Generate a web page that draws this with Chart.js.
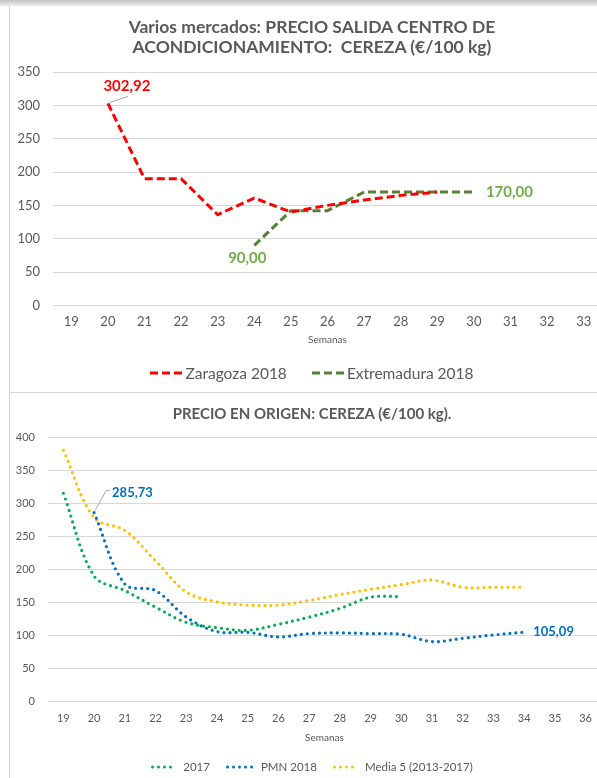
<!DOCTYPE html>
<html>
<head>
<meta charset="utf-8">
<script src="https://cdn.jsdelivr.net/npm/chart.js@4.4.1/dist/chart.umd.min.js"></script>
<style>
  html, body { margin: 0; padding: 0; }
  body { width: 597px; height: 778px; overflow: hidden; position: relative; background: #fff; font-family: Lato, "Noto Sans", sans-serif; color: #595959; }
  .topband { position: absolute; left: 0; top: 0; width: 597px; height: 6px; background: linear-gradient(#c4c4c4, #ededed); }
  .leftline { position: absolute; left: 9px; top: 6px; width: 1px; height: 772px; background: #d0d0d0; }
  .sep { position: absolute; left: 9px; top: 392px; width: 600px; height: 1px; background: #d9d9d9; }
  .box { position: absolute; left: 0; width: 602px; }
  .title { position: absolute; left: 22px; width: 580px; text-align: center; font-weight: bold; white-space: nowrap; }
  .legend { position: absolute; left: 22px; width: 580px; display: flex; justify-content: center; align-items: center; white-space: nowrap; }
  .legend span.item { display: inline-flex; align-items: center; }
  .legend svg { margin-right: 3px; }
</style>
</head>
<body>
<div class="topband"></div>
<div class="leftline"></div>
<div class="sep"></div>

<div class="box" style="top:6px;height:386px"><canvas id="top"></canvas></div>
<div class="title" style="top:17px;font-size:17.5px;line-height:20px">Varios mercados: PRECIO SALIDA CENTRO DE<br>ACONDICIONAMIENTO:&nbsp; CEREZA (€/100 kg)</div>
<div class="legend" id="legTop" style="top:364px;font-size:15.5px"></div>

<div class="box" style="top:393px;height:385px"><canvas id="bottom"></canvas></div>
<div class="title" style="top:404px;font-size:15px;line-height:18px">PRECIO EN ORIGEN: CEREZA (€/100 kg).</div>
<div class="legend" id="legBottom" style="top:760px;font-size:11.5px"></div>

<script>
// --- datos: gráfico superior ---
const semanasTop = ["19","20","21","22","23","24","25","26","27","28","29","30","31","32","33"];
const zaragoza2018 = [null, 302.92, 190, 190, 136, 161, 140, 150, 158, 165, 170, null, null, null, null];
const extremadura2018 = [null, null, null, null, null, 90, 142, 142, 170, 170, 170, 170, null, null, null];
const ticksTop = [0, 50, 100, 150, 200, 250, 300, 350];

// --- datos: gráfico inferior ---
const semanasBottom = ["19","20","21","22","23","24","25","26","27","28","29","30","31","32","33","34","35","36"];
const serie2017 = [315, 190, 168, 143, 120, 112, 108, 117, 128, 141, 158, 159, null, null, null, null, null, null];
const pmn2018 = [null, 285.73, 178, 168, 128, 106, 105, 98, 103, 104, 103, 102, 91, 96, 101, 105.09, null, null];
const media5 = [380, 278, 259, 213, 166, 151, 146, 146, 153, 162, 170, 177, 184, 173, 173, 173, null, null];
const ticksBottom = [0, 50, 100, 150, 200, 250, 300, 350, 400];

const txt = "#595959";
const font = 'Lato, "Noto Sans", sans-serif';

function fmt(v) {
    return v.toFixed(2).replace(".", ",");
}

// etiquetas de datos sobre puntos concretos
const pointLabels = {
    id: "pointLabels",
    afterDatasetsDraw(chart, args, opts) {
        const ctx = chart.ctx;
        (opts.items || []).forEach((it) => {
            const pt = chart.getDatasetMeta(it.dataset).data[it.index];
            const value = chart.data.datasets[it.dataset].data[it.index];
            if (!pt || value == null) return;
            ctx.save();
            if (it.leader) {
                ctx.strokeStyle = "#a6a6a6";
                ctx.lineWidth = 1;
                ctx.beginPath();
                it.leader.forEach((p, i) => {
                    if (i === 0) ctx.moveTo(pt.x + p[0], pt.y + p[1]);
                    else ctx.lineTo(pt.x + p[0], pt.y + p[1]);
                });
                ctx.stroke();
            }
            ctx.font = "bold " + it.size + "px " + font;
            ctx.fillStyle = it.color;
            ctx.textAlign = it.align || "center";
            ctx.textBaseline = "middle";
            ctx.fillText(fmt(value), pt.x + it.dx, pt.y + it.dy);
            ctx.restore();
        });
    },
};

function baseOptions(cfg) {
    return {
        responsive: true,
        maintainAspectRatio: false,
        animation: false,
        layout: { padding: { left: 0, right: 0, top: cfg.padTop, bottom: cfg.padBottom } },
        plugins: {
            legend: { display: false },
            tooltip: { enabled: false },
            pointLabels: { items: cfg.labels },
        },
        scales: {
            x: {
                offset: true,
                grid: { display: false, drawTicks: false },
                border: { display: false },
                ticks: { color: txt, font: { family: font, size: cfg.xSize }, padding: cfg.xPad, maxRotation: 0, autoSkip: false },
                title: { display: true, text: "Semanas", color: txt, font: { family: font, size: 10 }, padding: { top: cfg.semTop, bottom: 0 } },
            },
            y: {
                min: 0,
                max: cfg.ticks[cfg.ticks.length - 1],
                afterBuildTicks: (s) => { s.ticks = cfg.ticks.map((v) => ({ value: v })); },
                afterFit: (s) => { s.width = cfg.yWidth; },
                grid: { color: "#d9d9d9", lineWidth: 1, drawTicks: false },
                border: { display: false },
                ticks: { color: txt, font: { family: font, size: cfg.ySize }, padding: 13 },
            },
        },
    };
}

new Chart(document.getElementById("top"), {
    type: "line",
    data: {
        labels: semanasTop,
        datasets: [
            { label: "Zaragoza 2018", data: zaragoza2018, borderColor: "#ff0000", borderWidth: 3, borderDash: [8, 4], pointRadius: 0, tension: 0 },
            { label: "Extremadura 2018", data: extremadura2018, borderColor: "#548235", borderWidth: 3, borderDash: [8, 4], pointRadius: 0, tension: 0 },
        ],
    },
    options: baseOptions({
        padTop: 66, padBottom: 46, xSize: 13, xPad: 9, ySize: 13, semTop: -5, yWidth: 53,
        ticks: ticksTop,
        labels: [
            { dataset: 0, index: 1, color: "#ff0000", size: 15, dx: 19, dy: -17, leader: [[2, -1], [20, -7]] },
            { dataset: 1, index: 5, color: "#70ad47", size: 15, dx: -7, dy: 13 },
            { dataset: 1, index: 11, color: "#70ad47", size: 15, dx: 12, dy: 0, align: "left" },
        ],
    }),
    plugins: [pointLabels],
});

new Chart(document.getElementById("bottom"), {
    type: "line",
    data: {
        labels: semanasBottom,
        datasets: [
            { label: "2017", data: serie2017, borderColor: "#00b050", borderWidth: 3.2, borderDash: [0, 6], borderCapStyle: "round", pointRadius: 0, tension: 0.35 },
            { label: "PMN 2018", data: pmn2018, borderColor: "#0070c0", borderWidth: 3.2, borderDash: [0, 6], borderCapStyle: "round", pointRadius: 0, tension: 0.35 },
            { label: "Media 5 (2013-2017)", data: media5, borderColor: "#ffc000", borderWidth: 3.2, borderDash: [0, 6], borderCapStyle: "round", pointRadius: 0, tension: 0.35 },
        ],
    },
    options: baseOptions({
        padTop: 44, padBottom: 34, xSize: 11, xPad: 10, ySize: 11, semTop: -3, yWidth: 48,
        ticks: ticksBottom,
        labels: [
            { dataset: 1, index: 1, color: "#0070c0", size: 13, dx: 18, dy: -20, align: "left", leader: [[1, -2], [12, -22], [16, -22]] },
            { dataset: 1, index: 15, color: "#0070c0", size: 13, dx: 9, dy: 0, align: "left" },
        ],
    }),
    plugins: [pointLabels],
});

// leyendas
function legend(id, items, gap) {
    const el = document.getElementById(id);
    el.innerHTML = items.map((it, i) => {
        const line = it.dotted
            ? `<line x1="1.5" y1="3" x2="${it.w}" y2="3" stroke="${it.color}" stroke-width="3" stroke-linecap="round" stroke-dasharray="0 6"/>`
            : `<line x1="0" y1="3" x2="${it.w}" y2="3" stroke="${it.color}" stroke-width="3" stroke-dasharray="8 4"/>`;
        return `<span class="item" style="margin-left:${i ? gap : 0}px"><svg width="${it.w}" height="6">${line}</svg><span style="margin-left:${it.dotted ? 4 : 0}px">${it.label}</span></span>`;
    }).join("");
}

legend("legTop", [
    { label: "Zaragoza 2018", color: "#ff0000", w: 32 },
    { label: "Extremadura 2018", color: "#548235", w: 32 },
], 25);

legend("legBottom", [
    { label: "2017", color: "#00b050", w: 25, dotted: true },
    { label: "PMN 2018", color: "#0070c0", w: 28, dotted: true },
    { label: "Media 5 (2013-2017)", color: "#ffc000", w: 25, dotted: true },
], 16);
</script>
</body>
</html>
